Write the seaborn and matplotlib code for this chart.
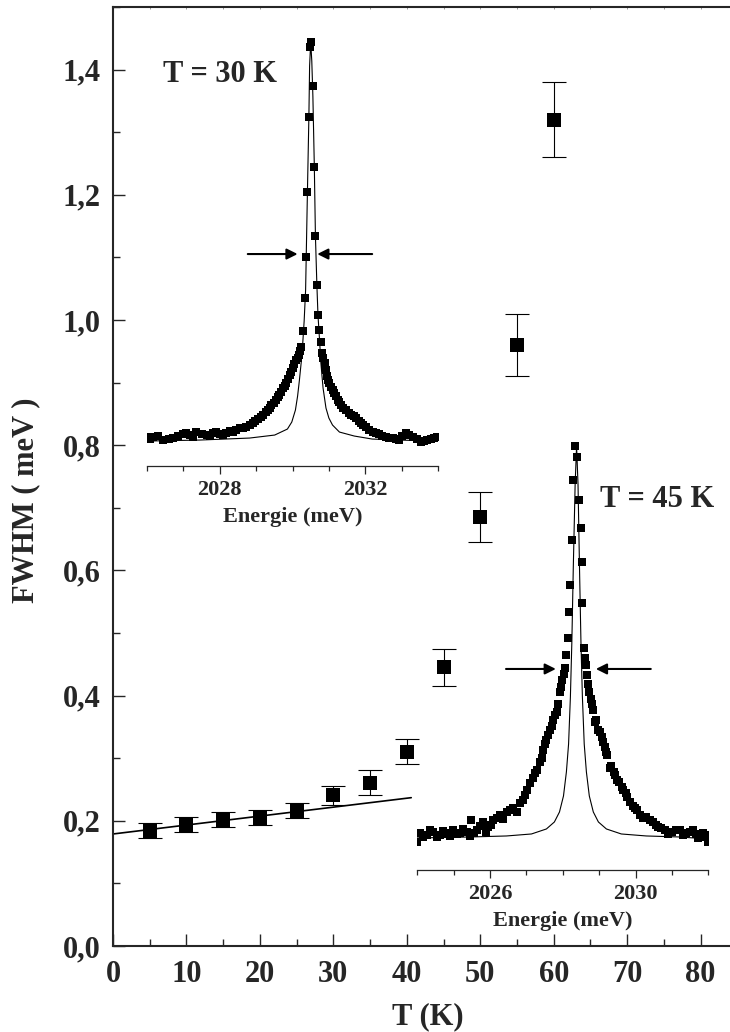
import seaborn as sns
import matplotlib.pyplot as plt
from matplotlib.ticker import MultipleLocator, FixedLocator, FuncFormatter

# main panel: FWHM vs temperature
temp_k = [5, 10, 15, 20, 25, 30, 35, 40, 45, 50, 55, 60]
fwhm = [0.184, 0.194, 0.202, 0.205, 0.216, 0.241, 0.261, 0.310, 0.445, 0.685, 0.960, 1.320]
fwhm_err = [0.012, 0.012, 0.012, 0.012, 0.012, 0.015, 0.020, 0.020, 0.030, 0.040, 0.050, 0.060]
fit_t = [0, 40.6]
fit_w = [0.179, 0.237]

# inset T = 30 K (energy in meV, intensity in arb. units)
e30 = [2025.99, 2026.08, 2026.17, 2026.30, 2026.45, 2026.60, 2026.72, 2026.85, 2026.99, 2027.08,
       2027.18, 2027.27, 2027.36, 2027.50, 2027.64, 2027.73, 2027.82, 2027.91, 2028.00, 2028.09,
       2028.18, 2028.27, 2028.36, 2028.45, 2028.55, 2028.64, 2028.73, 2028.82, 2028.91, 2028.98,
       2029.05, 2029.12, 2029.19, 2029.26, 2029.32, 2029.37, 2029.42, 2029.48, 2029.55, 2029.60,
       2029.64, 2029.69, 2029.73, 2029.78, 2029.83, 2029.88, 2029.92, 2029.97, 2030.01, 2030.05,
       2030.10, 2030.14, 2030.17, 2030.20, 2030.24, 2030.28, 2030.33, 2030.38, 2030.41, 2030.45,
       2030.47, 2030.51, 2030.56, 2030.60, 2030.63, 2030.67, 2030.70, 2030.74, 2030.78, 2030.81,
       2030.83, 2030.88, 2030.90, 2030.92, 2030.95, 2030.97, 2031.01, 2031.06, 2031.10, 2031.15,
       2031.20, 2031.24, 2031.28, 2031.33, 2031.40, 2031.47, 2031.54, 2031.61, 2031.68, 2031.75,
       2031.82, 2031.88, 2031.95, 2032.02, 2032.10, 2032.20, 2032.29, 2032.38, 2032.47, 2032.57,
       2032.66, 2032.75, 2032.84, 2032.93, 2033.02, 2033.12, 2033.20, 2033.30, 2033.42, 2033.53,
       2033.62, 2033.71, 2033.80, 2033.89, 2033.97]
i30 = [29, 27, 29, 30, 26, 27, 28, 30, 32, 33,
       31, 29, 34, 32, 31, 30, 33, 34, 32, 31,
       33, 35, 34, 36, 38, 38, 39, 41, 43, 45,
       47, 49, 51, 54, 56, 58, 61, 63, 66, 69,
       71, 74, 78, 80, 83, 87, 91, 94, 98, 102,
       106, 108, 111, 115, 119, 135, 168, 209, 274, 349,
       419, 424, 380, 299, 230, 181, 151, 136, 124, 113,
       108, 103, 100, 96, 90, 86, 83, 79, 76, 73,
       70, 66, 64, 61, 58, 56, 53, 51, 50, 48,
       45, 43, 41, 39, 36, 34, 33, 32, 30, 29,
       28, 28, 27, 26, 30, 33, 31, 29, 27, 24,
       25, 26, 27, 28, 29]
fit_e30 = [2026.00, 2027.45, 2028.82, 2029.51, 2029.86, 2029.98, 2030.08, 2030.14, 2030.19, 2030.24,
           2030.28, 2030.32, 2030.36, 2030.41, 2030.45, 2030.47, 2030.50, 2030.53, 2030.56, 2030.60,
           2030.63, 2030.67, 2030.70, 2030.74, 2030.78, 2030.84, 2030.92, 2031.00, 2031.10, 2031.29,
           2031.70, 2032.19, 2032.93, 2033.97]
fit_i30 = [25, 26, 28, 31, 37, 44, 56, 70, 86, 104,
           122, 145, 176, 274, 349, 400, 424, 405, 370, 299,
           230, 181, 151, 128, 103, 78, 58, 48, 41, 34,
           30, 27, 26, 25]

# inset T = 45 K
e45 = [2024.00, 2024.07, 2024.15, 2024.26, 2024.35, 2024.44, 2024.53, 2024.62, 2024.70, 2024.81,
       2024.90, 2024.99, 2025.08, 2025.17, 2025.27, 2025.36, 2025.45, 2025.49, 2025.56, 2025.63,
       2025.72, 2025.81, 2025.88, 2025.95, 2026.02, 2026.09, 2026.18, 2026.27, 2026.36, 2026.46,
       2026.55, 2026.64, 2026.73, 2026.82, 2026.90, 2026.96, 2027.03, 2027.10, 2027.17, 2027.23,
       2027.30, 2027.37, 2027.42, 2027.46, 2027.50, 2027.55, 2027.60, 2027.65, 2027.70, 2027.74,
       2027.79, 2027.83, 2027.88, 2027.92, 2027.96, 2027.99, 2028.03, 2028.06, 2028.10, 2028.15,
       2028.18, 2028.21, 2028.26, 2028.29, 2028.33, 2028.40, 2028.44, 2028.49, 2028.52, 2028.54,
       2028.58, 2028.62, 2028.65, 2028.68, 2028.70, 2028.72, 2028.77, 2028.80, 2028.82, 2028.88,
       2028.92, 2028.97, 2029.02, 2029.07, 2029.12, 2029.16, 2029.20, 2029.23, 2029.29, 2029.33,
       2029.40, 2029.44, 2029.48, 2029.55, 2029.62, 2029.67, 2029.73, 2029.78, 2029.84, 2029.92,
       2029.98, 2030.05, 2030.12, 2030.20, 2030.30, 2030.40, 2030.48, 2030.55, 2030.62, 2030.70,
       2030.80, 2030.90, 2030.99, 2031.10, 2031.22, 2031.30, 2031.40, 2031.50, 2031.58, 2031.65,
       2031.72, 2031.80, 2031.86, 2031.93, 2031.98]
i45 = [28, 37, 33, 35, 40, 38, 33, 35, 39, 37,
       34, 40, 36, 37, 41, 38, 34, 50, 37, 40,
       44, 48, 38, 43, 45, 50, 52, 55, 51, 58,
       60, 62, 58, 67, 70, 75, 80, 87, 92, 97,
       100, 108, 112, 120, 126, 130, 135, 140, 144, 150,
       155, 158, 166, 178, 183, 190, 196, 202, 215, 232,
       258, 285, 330, 390, 424, 413, 370, 342, 308, 267,
       222, 212, 205, 195, 186, 178, 171, 166, 160, 148,
       150, 140, 138, 133, 128, 123, 118, 115, 102, 104,
       98, 95, 90, 88, 83, 80, 77, 73, 68, 64,
       62, 60, 55, 52, 53, 50, 48, 45, 43, 42,
       40, 36, 38, 40, 40, 35, 37, 38, 40, 36,
       32, 33, 37, 35, 28]
fit_e45 = [2024.00, 2025.45, 2026.45, 2027.14, 2027.55, 2027.77, 2027.91, 2028.02, 2028.10, 2028.16,
           2028.21, 2028.25, 2028.29, 2028.34, 2028.38, 2028.42, 2028.46, 2028.50, 2028.54, 2028.59,
           2028.65, 2028.73, 2028.84, 2028.98, 2029.20, 2029.61, 2030.30, 2031.22, 2032.00]
fit_i45 = [32, 33, 34, 36, 41, 48, 58, 74, 98, 126,
           173, 228, 303, 385, 424, 385, 303, 228, 173, 126,
           98, 74, 58, 48, 41, 36, 34, 33, 31]

SERIF = ['Liberation Serif', 'DejaVu Serif']


def style_inset(ax, xlim, major):
    ax.set_facecolor('none')
    ax.set_xlim(*xlim)
    ax.set_ylim(0, 436)
    for side in ['left', 'right', 'top']:
        ax.spines[side].set_visible(False)
    ax.spines['bottom'].set_linewidth(0.9)
    ax.set_yticks([])
    ax.set_ylabel('')
    ax.xaxis.set_major_locator(FixedLocator(major))
    ax.xaxis.set_minor_locator(MultipleLocator(1))
    ax.tick_params(axis='x', which='major', direction='out', length=6, width=0.9,
                   pad=4, labelsize=16)
    ax.tick_params(axis='x', which='minor', direction='out', length=3.3, width=0.9)
    ax.set_xlabel('Energie (meV)', fontsize=16, fontweight='bold', labelpad=5)
    for lab in ax.get_xticklabels():
        lab.set_fontweight('bold')


def main():
    sns.set_theme(style='ticks')
    plt.rcParams['font.family'] = SERIF
    plt.rcParams['font.weight'] = 'bold'
    plt.rcParams['axes.labelweight'] = 'bold'

    fig = plt.figure(figsize=(7.3, 10.32), dpi=100)
    ax = fig.add_axes([0.1548, 0.0833, 0.8452, 0.9099])

    ax.errorbar(temp_k, fwhm, yerr=fwhm_err, fmt='none', ecolor='black',
                elinewidth=0.8, capsize=8.6, capthick=0.8, zorder=2)
    sns.scatterplot(x=temp_k, y=fwhm, ax=ax, marker='s', s=88, color='black',
                    linewidth=0, zorder=3)
    sns.lineplot(x=fit_t, y=fit_w, ax=ax, color='black', lw=1.2, zorder=2)

    ax.set_xlim(0, 84)
    ax.set_ylim(0, 1.5)
    ax.xaxis.set_major_locator(MultipleLocator(10))
    ax.xaxis.set_minor_locator(MultipleLocator(5))
    ax.yaxis.set_major_locator(MultipleLocator(0.2))
    ax.yaxis.set_minor_locator(MultipleLocator(0.1))
    ax.yaxis.set_major_formatter(FuncFormatter(lambda v, p: f'{v:.1f}'.replace('.', ',')))
    ax.tick_params(which='major', direction='in', length=8.6, width=1.0, labelsize=22)
    ax.tick_params(which='minor', direction='in', length=4.7, width=1.0)
    ax.tick_params(axis='x', which='major', pad=10)
    ax.tick_params(axis='y', which='major', pad=9)
    for lab in ax.get_xticklabels() + ax.get_yticklabels():
        lab.set_fontweight('bold')
    ax.spines['right'].set_visible(False)
    for side in ['left', 'bottom', 'top']:
        ax.spines[side].set_linewidth(1.5)

    top = ax.secondary_xaxis('top')
    top.xaxis.set_major_locator(MultipleLocator(5))
    top.tick_params(direction='in', length=1.5, width=0.6, labeltop=False, colors='#888888')
    top.spines['top'].set_visible(False)

    fig.text(26 / 730, 1 - 500 / 1032, 'FWHM ( meV )', rotation=90, ha='center', va='center',
             fontsize=22, fontweight='bold')
    fig.text(428 / 730, 1 - 1017 / 1032, 'T (K)', ha='center', va='center',
             fontsize=22, fontweight='bold')

    ax.text(6.8, 1.392, 'T = 30 K', ha='left', va='center', fontsize=22, fontweight='bold')
    ax.text(66.3, 0.714, 'T = 45 K', ha='left', va='center', fontsize=22, fontweight='bold')

    arrow = dict(arrowstyle='-|>', color='black', lw=1.5, mutation_scale=16,
                 shrinkA=0, shrinkB=0)

    # inset 30 K
    ax1 = fig.add_axes([0.2014, 0.5484, 0.3986, 0.4225])
    sns.lineplot(x=fit_e30, y=fit_i30, ax=ax1, color='black', lw=0.8, sort=False,
                 estimator=None)
    sns.scatterplot(x=e30, y=i30, ax=ax1, marker='s', s=27, color='black', linewidth=0)
    style_inset(ax1, (2026, 2034), [2028, 2032])
    ax1.annotate('', xy=(2030.14, 212), xytext=(2028.77, 212), arrowprops=arrow)
    ax1.annotate('', xy=(2030.68, 212), xytext=(2032.19, 212), arrowprops=arrow)

    # inset 45 K
    ax2 = fig.add_axes([0.5716, 0.1570, 0.3986, 0.4225])
    sns.lineplot(x=fit_e45, y=fit_i45, ax=ax2, color='black', lw=0.8, sort=False,
                 estimator=None)
    sns.scatterplot(x=e45, y=i45, ax=ax2, marker='s', s=27, color='black', linewidth=0)
    style_inset(ax2, (2024, 2032), [2026, 2030])
    ax2.annotate('', xy=(2027.81, 201), xytext=(2026.44, 201), arrowprops=arrow)
    ax2.annotate('', xy=(2028.91, 201), xytext=(2030.42, 201), arrowprops=arrow)

    fig.savefig('out.png', dpi=100)


if __name__ == '__main__':
    main()
